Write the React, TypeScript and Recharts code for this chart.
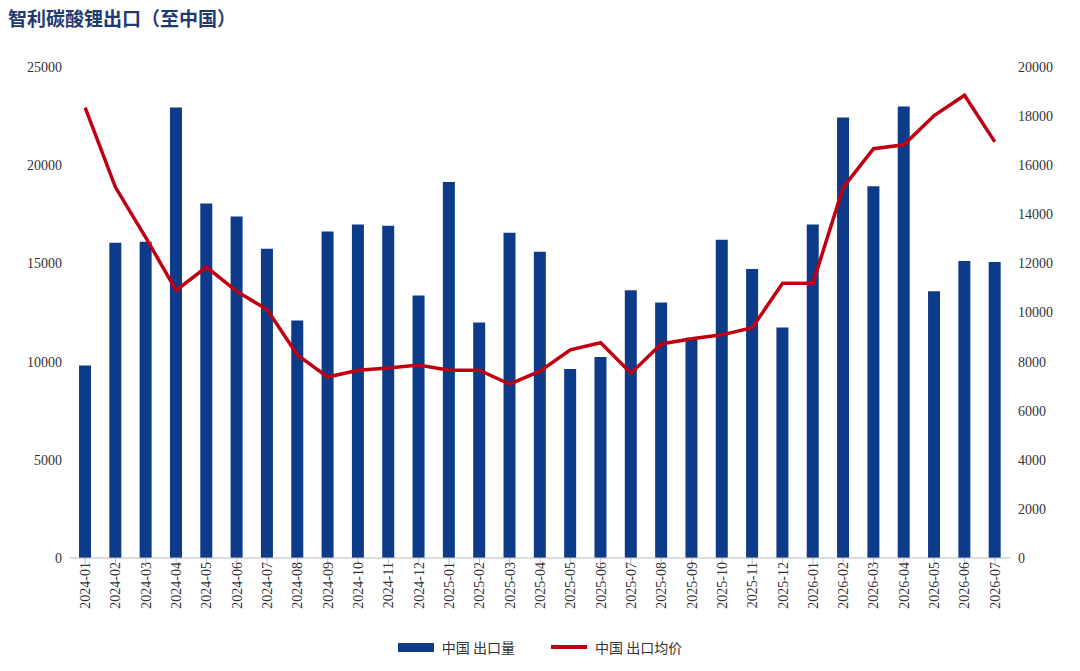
import { Bar, ComposedChart, Legend, Line, XAxis, YAxis } from 'recharts'

const months = [
  '2024-01', '2024-02', '2024-03', '2024-04', '2024-05', '2024-06', '2024-07', '2024-08', '2024-09', '2024-10', '2024-11', '2024-12',
  '2025-01', '2025-02', '2025-03', '2025-04', '2025-05', '2025-06', '2025-07', '2025-08', '2025-09', '2025-10', '2025-11', '2025-12',
  '2026-01', '2026-02', '2026-03', '2026-04', '2026-05', '2026-06', '2026-07',
]

const volume = [
  9800, 16050, 16100, 22940, 18050, 17390, 15740, 12090, 16620, 16980, 16920, 13370,
  19140, 11990, 16560, 15590, 9620, 10240, 13630, 13010, 11210, 16200, 14710, 11730,
  16980, 22430, 18930, 22990, 13580, 15120, 15070,
]

const price = [
  18350, 15100, 13050, 10900, 11850, 10860, 10120, 8270, 7370, 7650, 7740, 7860,
  7650, 7650, 7080, 7610, 8480, 8770, 7530, 8720, 8930, 9090, 9380, 11190,
  11190, 15100, 16670, 16830, 18020, 18850, 16950,
]

const leftTicks = [0, 5000, 10000, 15000, 20000, 25000]
const rightTicks = [0, 2000, 4000, 6000, 8000, 10000, 12000, 14000, 16000, 18000, 20000]

const data = months.map((m, i) => ({ month: m, volume: volume[i], price: price[i] }))

const axisText = { fontSize: 14, fill: '#333', fontFamily: '"Liberation Serif", serif' }

const BAR = '#0d3b8a'
const LINE = '#c00010'

function LegendBox() {
  return (
    <div style={{ display: 'flex', justifyContent: 'center', alignItems: 'center', gap: 36, fontSize: 14, color: '#333' }}>
      <span style={{ display: 'flex', alignItems: 'center', gap: 8 }}>
        <span style={{ width: 36, height: 9, background: BAR, display: 'inline-block' }} />
        中国  出口量
      </span>
      <span style={{ display: 'flex', alignItems: 'center', gap: 8 }}>
        <span style={{ width: 36, height: 4, background: LINE, display: 'inline-block' }} />
        中国  出口均价
      </span>
    </div>
  )
}

export default function App() {
  document.body.style.margin = '0'
  return (
    <div style={{ width: 1080, height: 671, position: 'relative', background: '#fff', fontFamily: '"Noto Sans CJK SC", sans-serif' }}>
      <div style={{ position: 'absolute', left: 8, top: 4, fontSize: 19, fontWeight: 700, color: '#1f3a70' }}>
        智利碳酸锂出口（至中国）
      </div>
      <ComposedChart width={1080} height={671} data={data} margin={{ top: 67, right: 10, left: 10, bottom: 15 }}>
        <XAxis
          dataKey="month"
          interval={0}
          angle={-90}
          textAnchor="end"
          dy={-4}
          dx={-5}
          height={78}
          tick={axisText}
          tickLine={{ stroke: '#bbb' }}
          axisLine={{ stroke: '#bbb' }}
        />
        <YAxis yAxisId="l" domain={[0, 25000]} ticks={leftTicks} width={60} tick={axisText} axisLine={false} tickLine={false} />
        <YAxis yAxisId="r" orientation="right" domain={[0, 20000]} ticks={rightTicks} width={60} tick={axisText} axisLine={false} tickLine={false} />
        <Bar yAxisId="l" dataKey="volume" name="中国  出口量" fill={BAR} barSize={12} isAnimationActive={false} />
        <Line yAxisId="r" dataKey="price" name="中国  出口均价" stroke={LINE} strokeWidth={3.5} dot={false} type="linear" isAnimationActive={false} />
        <Legend verticalAlign="bottom" wrapperStyle={{ bottom: 14 }} content={() => <LegendBox />} />
      </ComposedChart>
    </div>
  )
}
